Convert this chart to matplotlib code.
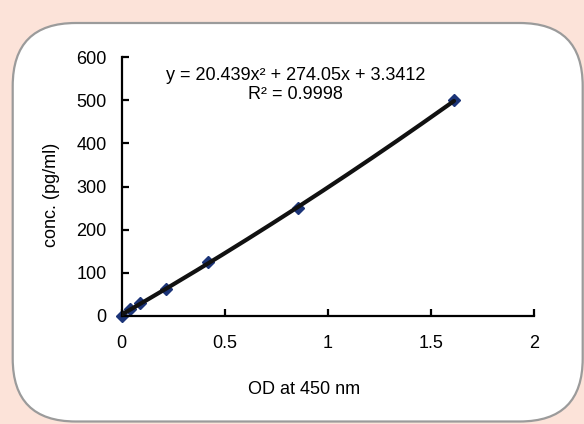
import numpy as np
import matplotlib.pyplot as plt
from matplotlib.patches import FancyBboxPatch

# standard curve readings
od = [0.0, 0.04, 0.087, 0.217, 0.419, 0.853, 1.612]
conc = [0.0, 15.6, 31.25, 62.5, 125.0, 250.0, 500.0]
fit_coef = [20.439, 274.05, 3.3412]  # poly trendline, highest power first
eq_text = 'y = 20.439x\u00b2 + 274.05x + 3.3412'
r2_text = 'R\u00b2 = 0.9998'

x_ticks = [0, 0.5, 1, 1.5, 2]
x_tick_labels = ['0', '0.5', '1', '1.5', '2']
y_ticks = [0, 100, 200, 300, 400, 500, 600]

plt.rcParams['font.family'] = ['Liberation Sans', 'DejaVu Sans']

W, H = 584, 424
fs = 13
fig = plt.figure(figsize=(W / 100, H / 100), dpi=100)
fig.patch.set_facecolor('#fce3d9')

# rounded white panel, sizes in inches
panel = FancyBboxPatch((0.127, 0.025), 5.70, 3.985,
                       boxstyle='round,pad=0,rounding_size=0.63',
                       transform=fig.dpi_scale_trans,
                       facecolor='white', edgecolor='#9b9b9b', linewidth=1.6,
                       zorder=-5)
fig.patches.append(panel)

ax = fig.add_axes([121.7 / W, 1 - 316 / H, (534 - 121.7) / W, (316 - 57) / H])
ax.set_zorder(2)
ax.set_facecolor('none')

xs = np.linspace(min(od), max(od), 200)
ax.plot(xs, np.polyval(fit_coef, xs), color='#111111', lw=3.0, zorder=3,
        solid_capstyle='round')
ax.plot(od, conc, linestyle='none', marker='D', markersize=6.5,
        color='#1b3478', zorder=2, clip_on=False)

ax.set_xlim(0, 2)
ax.set_ylim(0, 600)
ax.set_xticks(x_ticks)
ax.set_xticklabels(x_tick_labels)
ax.set_yticks(y_ticks)

for s in ['top', 'right']:
    ax.spines[s].set_visible(False)
for s in ['left', 'bottom']:
    ax.spines[s].set_linewidth(1.6)
    ax.spines[s].set_color('black')

ax.tick_params(axis='both', direction='in', length=5, width=1.6,
               labelsize=fs, colors='black')
ax.tick_params(axis='x', pad=14)
ax.tick_params(axis='y', pad=11)

ax.text(0.843, 558, eq_text, ha='center', va='center', fontsize=fs)
ax.text(0.843, 512, r2_text, ha='center', va='center', fontsize=fs)

fig.text(304.5 / W, 1 - 390 / H, 'OD at 450 nm', ha='center', va='center',
         fontsize=fs)
fig.text(52 / W, 1 - 195 / H, 'conc. (pg/ml)', ha='center', va='center',
         rotation=90, fontsize=fs)

fig.savefig('out.png', dpi=100, facecolor=fig.get_facecolor())
